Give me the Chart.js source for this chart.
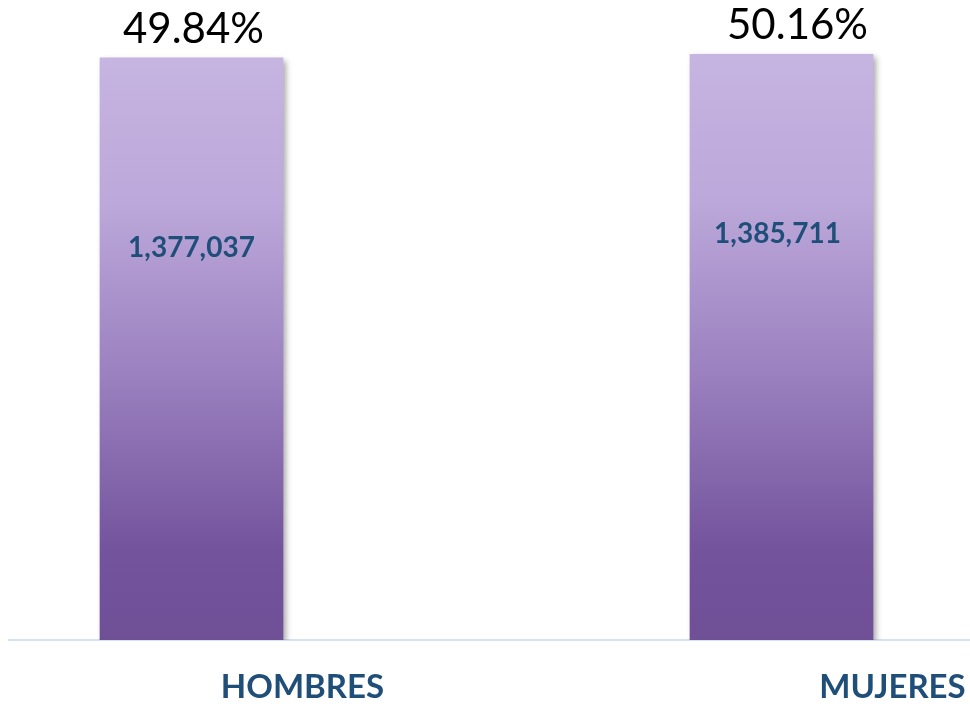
<!DOCTYPE html>
<html>
<head>
<meta charset="utf-8">
<script src="https://cdn.jsdelivr.net/npm/chart.js@4"></script>
<style>
  html, body { margin: 0; padding: 0; background: #fff; }
  #wrap { width: 970px; height: 706px; }
</style>
</head>
<body>
<div id="wrap"><canvas id="grafica"></canvas></div>
<script>
// datos
const categorias = ['HOMBRES', 'MUJERES'];
const poblacion = [1377037, 1385711];
const porcentajes = [49.84, 50.16];

const azul = '#1f4e79';

// sombra de las barras
const sombraBarras = {
    id: 'sombraBarras',
    beforeDatasetsDraw(chart) {
        const ctx = chart.ctx;
        ctx.save();
        ctx.shadowColor = 'rgba(0,0,0,0.35)';
        ctx.shadowBlur = 6;
        ctx.shadowOffsetX = 3;
        ctx.shadowOffsetY = 3;
    },
    afterDatasetsDraw(chart) {
        chart.ctx.restore();
    }
};

// etiquetas de porcentaje y valor
const etiquetas = {
    id: 'etiquetas',
    afterDatasetsDraw(chart, args, opts) {
        const ctx = chart.ctx;
        const meta = chart.getDatasetMeta(0);
        ctx.save();
        ctx.textAlign = 'center';
        meta.data.forEach((bar, i) => {
            // porcentaje arriba
            ctx.font = '42px Lato';
            ctx.fillStyle = '#000';
            ctx.textBaseline = 'alphabetic';
            ctx.fillText(porcentajes[i].toFixed(2) + '%', bar.x + opts.pctDx[i], bar.y - 15);

            // valor dentro de la barra
            ctx.font = 'bold 28px Lato';
            ctx.fillStyle = azul;
            ctx.textBaseline = 'middle';
            ctx.fillText(poblacion[i].toLocaleString('en-US'), bar.x + opts.valDx[i], bar.y + opts.valDy[i]);
        });
        ctx.restore();
    }
};

function degradado(context) {
    const chart = context.chart;
    const { ctx, chartArea, scales } = chart;
    if (!chartArea || !context.parsed) return '#9a80bf';
    const top = scales.y.getPixelForValue(context.parsed.y);
    const g = ctx.createLinearGradient(0, top, 0, chartArea.bottom);
    g.addColorStop(0, '#c6b4e1');
    g.addColorStop(0.25, '#bca8da');
    g.addColorStop(0.55, '#9a80bf');
    g.addColorStop(0.85, '#73539c');
    g.addColorStop(1, '#6f4f96');
    return g;
}

const ctx = document.getElementById('grafica').getContext('2d');
new Chart(ctx, {
    type: 'bar',
    data: {
        datasets: [{
            data: poblacion.map((v, i) => ({ x: i, y: v })),
            backgroundColor: degradado,
            borderWidth: 0,
            barThickness: 183
        }]
    },
    options: {
        responsive: true,
        maintainAspectRatio: false,
        animation: false,
        layout: { padding: { left: 9, right: 0, top: 0, bottom: 0 } },
        plugins: {
            legend: { display: false },
            tooltip: { enabled: false },
            etiquetas: {
                pctDx: [2, 16],
                valDx: [0, -4],
                valDy: [190, 180]
            }
        },
        scales: {
            x: {
                type: 'linear',
                offset: false,
                min: -0.30932,
                max: 1.31949,
                grid: { display: false, drawTicks: false },
                border: { display: true, color: '#d5e3f4', width: 2 },
                afterBuildTicks(scale) {
                    scale.ticks = categorias.map((c, i) => ({ value: i }));
                },
                afterFit(scale) {
                    scale.height = 66;
                },
                ticks: {
                    autoSkip: false,
                    maxRotation: 0,
                    padding: 28,
                    labelOffset: 111,
                    color: azul,
                    font: { family: 'Lato', size: 33, weight: 'bold' },
                    callback: (v) => categorias[v]
                }
            },
            y: {
                display: false,
                min: 0,
                max: 1514000
            }
        }
    },
    plugins: [sombraBarras, etiquetas]
});
</script>
</body>
</html>
